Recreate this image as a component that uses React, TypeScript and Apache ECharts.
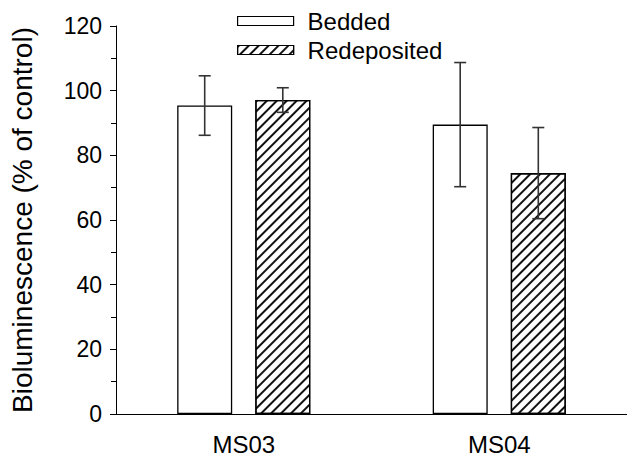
import React, { useEffect, useRef } from "react";
import * as echarts from "echarts";

const categories = ["MS03", "MS04"];
const beddedValues = [95.4, 89.5];
const beddedErrors = [9.2, 19.2];
const redepositedValues = [97.1, 74.5];
const redepositedErrors = [3.8, 14.1];
const yTicks = { min: 0, max: 120, interval: 20 };

const FONT = "'Liberation Sans', Arial, sans-serif";
const BAR_W = 55;
const BAR_GAP = 0.42;
const OFFSET = (BAR_W + BAR_W * BAR_GAP) / 2;

function errorSeries(name: string, values: number[], errs: number[], dir: number) {
  return {
    name: name + " error",
    type: "custom",
    z: 10,
    silent: true,
    data: values.map((v, i) => [i, v - errs[i], v + errs[i]]),
    renderItem: (params: any, api: any) => {
      const i = api.value(0);
      const lo = api.coord([i, api.value(1)]);
      const hi = api.coord([i, api.value(2)]);
      const x = lo[0] + dir * OFFSET;
      const cap = 6;
      const style = { stroke: "#333", lineWidth: 1.6, fill: "none" };
      return {
        type: "group",
        children: [
          { type: "line", shape: { x1: x, y1: lo[1], x2: x, y2: hi[1] }, style },
          { type: "line", shape: { x1: x - cap, y1: hi[1], x2: x + cap, y2: hi[1] }, style },
          { type: "line", shape: { x1: x - cap, y1: lo[1], x2: x + cap, y2: lo[1] }, style },
        ],
      };
    },
  };
}

export default function App() {
  const ref = useRef<HTMLDivElement>(null);
  useEffect(() => {
    if (!ref.current) return;
    const chart = echarts.init(ref.current, undefined, { renderer: "svg" });
    const hatch = {
      symbol: "rect",
      symbolSize: 1,
      dashArrayX: [1, 0],
      dashArrayY: [1.1, 4.8],
      rotation: -Math.PI / 4,
      color: "#111",
    };
    chart.setOption({
      animation: false,
      backgroundColor: "#fff",
      textStyle: { fontFamily: FONT, color: "#000" },
      grid: { left: 116, right: 0, top: 26, bottom: 46 },
      legend: {
        orient: "vertical",
        left: 237,
        top: 9,
        padding: 0,
        itemWidth: 56,
        itemHeight: 9,
        itemGap: 5,
        icon: "rect",
        data: ["Bedded", "Redeposited"],
        itemStyle: { borderColor: "#000", borderWidth: 1.2 },
        textStyle: { fontSize: 24, fontFamily: FONT, color: "#000", padding: [0, 0, 0, 9] },
      },
      xAxis: {
        type: "category",
        data: categories,
        axisLine: { lineStyle: { color: "#000", width: 1 } },
        axisTick: { alignWithLabel: true, length: 6, lineStyle: { color: "#000" } },
        axisLabel: { fontSize: 24, color: "#000", margin: 18, fontFamily: FONT },
      },
      yAxis: {
        type: "value",
        min: yTicks.min,
        max: yTicks.max,
        interval: yTicks.interval,
        name: "Bioluminescence (% of control)",
        nameLocation: "middle",
        nameGap: 80,
        nameTextStyle: { fontSize: 28, color: "#000", fontFamily: FONT },
        axisLine: { show: true, lineStyle: { color: "#000", width: 1 } },
        axisTick: { show: true, length: 6, lineStyle: { color: "#000" } },
        minorTick: { show: true, splitNumber: 2, length: 5, lineStyle: { color: "#000" } },
        splitLine: { show: false },
        axisLabel: { fontSize: 23, color: "#000", margin: 14, fontFamily: FONT },
      },
      series: [
        {
          name: "Bedded",
          type: "bar",
          barWidth: BAR_W,
          barGap: BAR_GAP * 100 + "%",
          data: beddedValues,
          itemStyle: { color: "#fff", borderColor: "#000", borderWidth: 1.3 },
        },
        {
          name: "Redeposited",
          type: "bar",
          barWidth: BAR_W,
          barGap: BAR_GAP * 100 + "%",
          data: redepositedValues,
          itemStyle: { color: "#fff", borderColor: "#000", borderWidth: 1.3, decal: hatch },
        },
        errorSeries("Bedded", beddedValues, beddedErrors, -1),
        errorSeries("Redeposited", redepositedValues, redepositedErrors, 1),
      ],
    });
    return () => chart.dispose();
  }, []);
  return <div ref={ref} style={{ width: 627, height: 460, position: "absolute", left: 0, top: 0 }} />;
}
